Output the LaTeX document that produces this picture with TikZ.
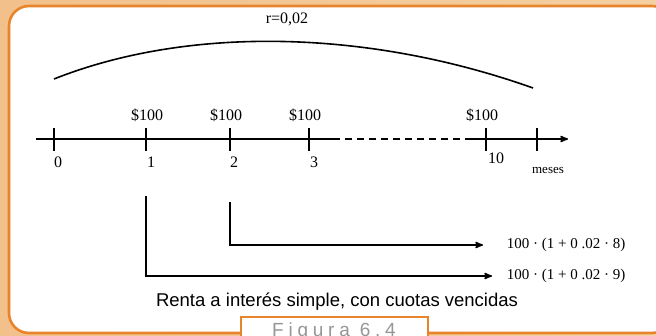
\documentclass[tikz,border=0pt]{standalone}
\usepackage{fontspec}
\setmainfont{Liberation Serif}
\setsansfont{Liberation Sans}
\usepackage{tikz}
\usetikzlibrary{positioning,arrows}
\definecolor{marco}{RGB}{232,132,44}
\definecolor{fondo}{RGB}{244,208,162}
\definecolor{grisfig}{RGB}{150,150,150}

\begin{document}
\begin{tikzpicture}[x=1pt,y=-1pt,>=stealth',line width=1.6pt,
	lbl/.style={font=\fontsize{16}{16}\selectfont,inner sep=0pt},
	frm/.style={font=\fontsize{15}{15}\selectfont,inner sep=0pt,anchor=west},
	tick/.style={line width=1.6pt}]
	\useasboundingbox (0,0) rectangle (656,335);
	% fondo y marco
	\shade[left color=fondo!80!marco,right color=fondo] (0,0) rectangle (656,335);
	\draw[marco,line width=2.6pt,fill=white,rounded corners=20pt] (9,6) rectangle (672,333);
	
	% curva del interes
	\coordinate (a0) at (54,79);
	\coordinate (a1) at (533,88);
	\draw (a0) .. controls (190,25) and (370,30) .. (a1);
	\node[lbl] (tasa) at (287,19) {r=0,02};
	
	% eje de tiempo
	\coordinate (ini) at (36,139);
	\coordinate (d1) at (333,139);
	\coordinate (d2) at (466,139);
	\coordinate (fin) at (568,139);
	\draw (ini) -- (d1);
	\draw[dash pattern=on 7pt off 5pt] (d1) -- (d2);
	\draw[->] (d2) -- (fin);
	\foreach \n/\x in {0/54,1/146,2/230,3/309,10/486,m/537}
		\draw[tick] (\x,128) -- (\x,151) coordinate (t\n);
	
	\node[lbl] (n0) at (58,162) {0};
	\node[lbl] (n1) at (151,162) {1};
	\node[lbl] (n2) at (234,162) {2};
	\node[lbl] (n3) at (314,162) {3};
	\node[lbl] (n10) at (496,158) {10};
	\node[font=\fontsize{13}{13}\selectfont,inner sep=0pt] (mes) at (548,170) {meses};
	
	\node[lbl] (p1) at (147,115) {\$100};
	\node[lbl] (p2) at (226,115) {\$100};
	\node[lbl] (p3) at (305,115) {\$100};
	\node[lbl] (p10) at (482,115) {\$100};
	
	% capitalizacion de las cuotas
	\coordinate (s1) at (146,196);
	\coordinate (s2) at (230,202);
	\node[frm] (f8) at (506,245) {100 · (1 + 0 .02 · 8)};
	\node[frm] (f9) at (506,276) {100 · (1 + 0 .02 · 9)};
	\draw[->,shorten >=23pt] (s2) |- (f8.west);
	\draw[->,shorten >=14pt] (s1) |- (f9.west);
	
	\node[font=\sffamily\fontsize{18.5}{18.5}\selectfont,inner sep=0pt] (pie) at (337,302) {Renta a interés simple, con cuotas vencidas};
	
	% pestana
	\draw[marco,line width=1.6pt,fill=white] (241,345) |- (428,317) -- (428,345);
	\node[font=\sffamily\fontsize{19}{19}\selectfont\addfontfeature{LetterSpace=25},text=grisfig,inner sep=0pt,anchor=north] (fig) at (334,322) {Figura 6.4};
\end{tikzpicture}
\end{document}
